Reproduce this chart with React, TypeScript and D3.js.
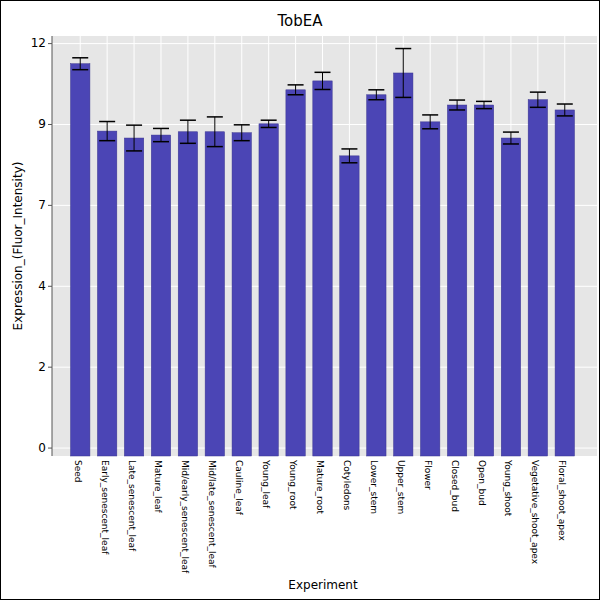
import React from "react";
import * as d3 from "d3";

const categories = ["Seed","Early_senescent_leaf","Late_senescent_leaf","Mature_leaf","Mid/early_senescent_leaf","Mid/late_senescent_leaf","Cauline_leaf","Young_leaf","Young_root","Mature_root","Cotyledons","Lower_stem","Upper_stem","Flower","Closed_bud","Open_bud","Young_shoot","Vegetative_shoot_apex","Floral_shoot_apex"];
const values = [11.64,9.6,9.39,9.48,9.58,9.58,9.55,9.82,10.85,11.12,8.85,10.7,11.36,9.88,10.39,10.39,9.39,10.55,10.24];
const errors = [0.18,0.29,0.39,0.2,0.35,0.45,0.24,0.11,0.15,0.26,0.21,0.15,0.74,0.21,0.15,0.11,0.18,0.23,0.18];
const tickValues = [0,2.45,4.9,7.35,9.8,12.25];

export default function App() {
  const W = 600, H = 600;
  const left = 52, right = 597, top = 36, bottom = 456;
  const x = d3.scaleBand().domain(categories).range([63, 582]).padding(0.28);
  const y = d3.scaleLinear().domain([-0.24, 12.48]).range([bottom, top]);
  return (
    <svg width={W} height={H} style={{ position: "absolute", left: 0, top: 0, fontFamily: "DejaVu Sans" }}>
      <rect x={0.5} y={0.5} width={W - 1} height={H - 1} fill="white" stroke="black" />
      <rect x={left} y={top} width={right - left} height={bottom - top} fill="#e6e6e6" />
      {tickValues.map(t => (
        <line key={t} x1={left} x2={right} y1={y(t)} y2={y(t)} stroke="white" />
      ))}
      {categories.map(c => (
        <line key={c} x1={x(c)! + x.bandwidth() / 2} x2={x(c)! + x.bandwidth() / 2} y1={top} y2={bottom} stroke="white" />
      ))}
      {categories.map((c, i) => {
        const cx = x(c)! + x.bandwidth() / 2;
        return (
          <g key={c}>
            <rect x={x(c)} y={y(values[i])} width={x.bandwidth()} height={bottom - y(values[i])} fill="#4b45b5" stroke="#3a3590" strokeWidth={0.5} />
            <line x1={cx} x2={cx} y1={y(values[i] + errors[i])} y2={y(values[i] - errors[i])} stroke="black" />
            <line x1={cx - 8} x2={cx + 8} y1={y(values[i] + errors[i])} y2={y(values[i] + errors[i])} stroke="black" strokeWidth={1.5} />
            <line x1={cx - 8} x2={cx + 8} y1={y(values[i] - errors[i])} y2={y(values[i] - errors[i])} stroke="black" strokeWidth={1.5} />
            <text transform={`translate(${cx - 3},${bottom + 4}) rotate(90)`} fontSize={9} dominantBaseline="middle">{c}</text>
          </g>
        );
      })}
      <line x1={left} x2={left} y1={top} y2={bottom} stroke="#555" />
      {tickValues.map(t => (
        <g key={t}>
          <line x1={left - 4} x2={left} y1={y(t)} y2={y(t)} stroke="#555" />
          <text x={left - 6} y={y(t)} textAnchor="end" dominantBaseline="middle" fontSize={12}>{Math.floor(t)}</text>
        </g>
      ))}
      <text x={300} y={26} textAnchor="middle" fontSize={15}>TobEA</text>
      <text x={323} y={589} textAnchor="middle" fontSize={12}>Experiment</text>
      <text transform={`translate(22,${(top + bottom) / 2}) rotate(-90)`} textAnchor="middle" fontSize={12}>Expression_(Fluor_Intensity)</text>
    </svg>
  );
}
